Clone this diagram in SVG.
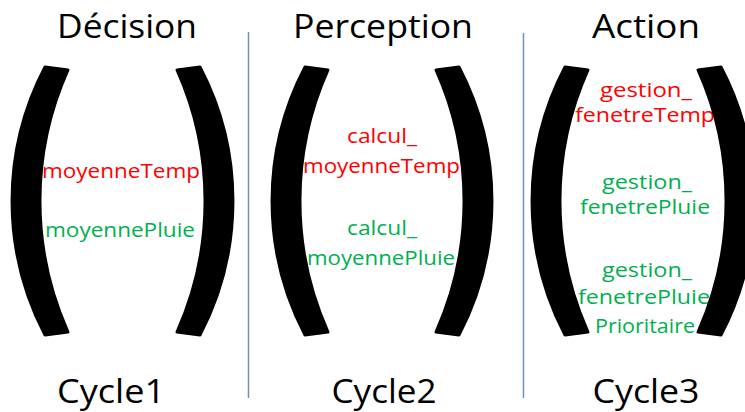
<svg xmlns="http://www.w3.org/2000/svg" xmlns:xlink="http://www.w3.org/1999/xlink" width="745" height="412" viewBox="0 0 745 412">
<style>
text{font-family:"Open Sans","Liberation Sans",sans-serif;text-anchor:middle}
.title{font-size:33px;fill:#000}
.cyc{font-size:32px;fill:#000}
.item{font-size:20px}
.red{fill:#ff0000}
.green{fill:#00b050}
.sep{stroke:#6f8fc8;stroke-width:1.5;fill:none}
.paren{fill:#000;stroke:#000;stroke-width:3;stroke-linejoin:round}
</style>
<defs>
<path id="paren" d="M 33,67 A 289 289 0 0 0 33,335 L 56,332 A 320 320 0 0 1 56,70 Z"/>
</defs>
<rect width="745" height="412" fill="#fff"/>
<g id="separators">
<line class="sep" x1="248.5" y1="32" x2="248.5" y2="398"/>
<line class="sep" x1="523.5" y1="33" x2="523.5" y2="398"/>
</g>
<g id="decision">
<text class="title" x="127" y="37.5" textLength="140" lengthAdjust="spacingAndGlyphs">Décision</text>
<text class="item red" x="121" y="178" textLength="158" lengthAdjust="spacingAndGlyphs">moyenneTemp</text>
<text class="item green" x="120" y="237" textLength="150" lengthAdjust="spacingAndGlyphs">moyennePluie</text>
<use xlink:href="#paren" class="paren" transform="translate(12,0)"/>
<use xlink:href="#paren" class="paren" transform="translate(233,0) scale(-1,1)"/>
<text class="cyc" x="111" y="403" textLength="108" lengthAdjust="spacingAndGlyphs">Cycle1</text>
</g>
<g id="perception">
<text class="title" x="383" y="38" textLength="180" lengthAdjust="spacingAndGlyphs">Perception</text>
<text class="item red" x="382" y="143" textLength="70" lengthAdjust="spacingAndGlyphs">calcul_</text>
<text class="item red" x="381.5" y="173" textLength="157" lengthAdjust="spacingAndGlyphs">moyenneTemp</text>
<text class="item green" x="382" y="235" textLength="70" lengthAdjust="spacingAndGlyphs">calcul_</text>
<text class="item green" x="381" y="265" textLength="148" lengthAdjust="spacingAndGlyphs">moyennePluie</text>
<use xlink:href="#paren" class="paren" transform="translate(272,0)"/>
<use xlink:href="#paren" class="paren" transform="translate(492,0) scale(-1,1)"/>
<text class="cyc" x="384" y="403" textLength="105" lengthAdjust="spacingAndGlyphs">Cycle2</text>
</g>
<g id="action">
<text class="title" x="646" y="38" textLength="108" lengthAdjust="spacingAndGlyphs">Action</text>
<text class="item red" x="646" y="97" textLength="92" lengthAdjust="spacingAndGlyphs">gestion_</text>
<text class="item red" x="645" y="122" textLength="140" lengthAdjust="spacingAndGlyphs">fenetreTemp</text>
<text class="item green" x="647" y="189" textLength="90" lengthAdjust="spacingAndGlyphs">gestion_</text>
<text class="item green" x="645" y="214" textLength="130" lengthAdjust="spacingAndGlyphs">fenetrePluie</text>
<text class="item green" x="647" y="277" textLength="90" lengthAdjust="spacingAndGlyphs">gestion_</text>
<text class="item green" x="644" y="304" textLength="132" lengthAdjust="spacingAndGlyphs">fenetrePluie</text>
<text class="item green" x="645" y="333" textLength="100" lengthAdjust="spacingAndGlyphs">Prioritaire</text>
<use xlink:href="#paren" class="paren" transform="translate(532,0)"/>
<use xlink:href="#paren" class="paren" transform="translate(754,0) scale(-1,1)"/>
<text class="cyc" x="646" y="403" textLength="107" lengthAdjust="spacingAndGlyphs">Cycle3</text>
</g>
</svg>
